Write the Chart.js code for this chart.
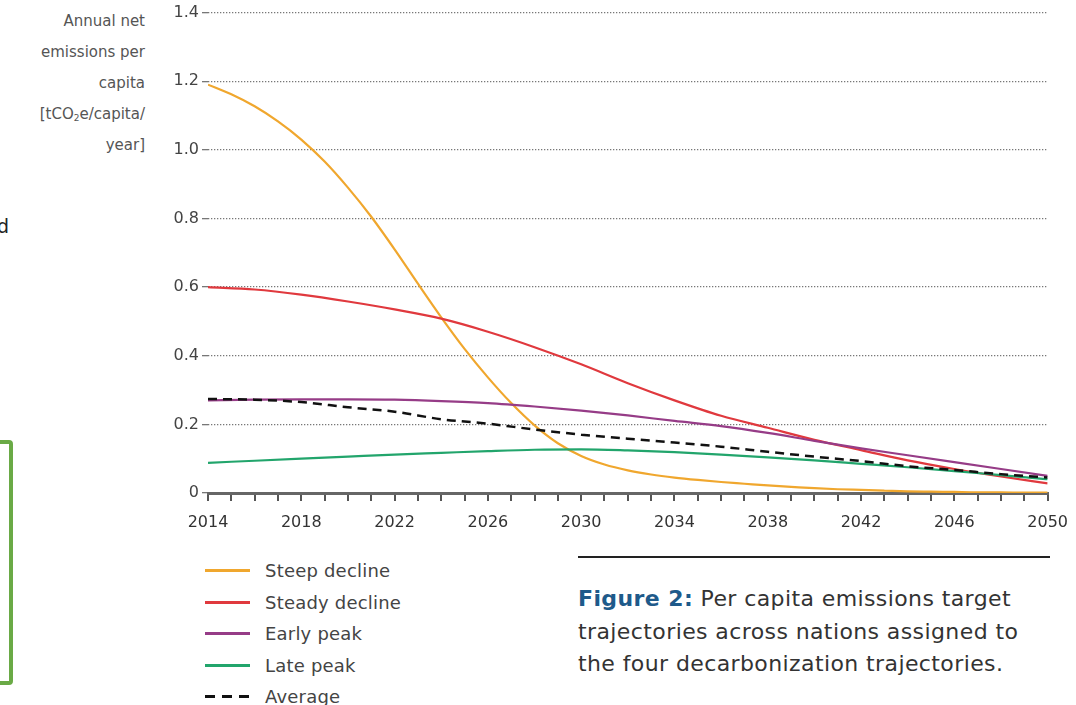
<!DOCTYPE html>
<html>
<head>
<meta charset="utf-8">
<script src="https://cdn.jsdelivr.net/npm/chart.js@4.4.1/dist/chart.umd.min.js"></script>
<style>
  body { margin: 0; background: #fff; font-family: "DejaVu Sans", sans-serif; width: 1076px; height: 705px; overflow: hidden; position: relative; }
  #wrap { position: absolute; left: 150px; top: 0; width: 930px; height: 538px; }
  #ytitle { position: absolute; right: 931px; top: 6px; text-align: right; font-size: 15px; line-height: 31px; color: #555; white-space: nowrap; }
  #ytitle sub { font-size: 9px; vertical-align: -2px; line-height: 0; }
  #legend { position: absolute; left: 205px; top: 555px; }
  .item { height: 31.5px; display: flex; align-items: center; font-size: 18px; letter-spacing: 0.2px; color: #444; }
  .swatch { width: 45px; height: 3px; margin-right: 15px; }
  #rule { position: absolute; left: 578px; top: 556px; width: 472px; height: 2px; background: #222; }
  #caption { position: absolute; left: 578px; top: 583px; font-size: 22px; letter-spacing: 0.4px; line-height: 32.5px; color: #333; white-space: nowrap; }
  #caption b { color: #1e5a8a; }
  #frag { position: absolute; left: -3px; top: 215px; font-size: 19px; color: #222; }
  #box { position: absolute; left: -10px; top: 440px; width: 15px; height: 237px; border: 4px solid #6aaa46; border-radius: 4px; }
</style>
</head>
<body>
<div id="frag">d</div>
<div id="box"></div>
<div id="ytitle">Annual net<br>emissions per<br>capita<br>[tCO<sub>2</sub>e/capita/<br>year]</div>
<div id="wrap"><canvas id="chart"></canvas></div>
<div id="legend"></div>
<div id="rule"></div>
<div id="caption"><b>Figure 2:</b> Per capita emissions target<br>trajectories across nations assigned to<br>the four decarbonization trajectories.</div>
<script>
// Años
const yearsSteep = [2014, 2015, 2016, 2017, 2018, 2019, 2020, 2021, 2022, 2023, 2024, 2025, 2026, 2027, 2028, 2029, 2030, 2031, 2032, 2033, 2034, 2035, 2036, 2037, 2038, 2039, 2040, 2041, 2042, 2043, 2044, 2045, 2046, 2047, 2048, 2049, 2050];
const years = [2014, 2016, 2018, 2020, 2022, 2024, 2026, 2028, 2030, 2032, 2034, 2036, 2038, 2040, 2042, 2044, 2046, 2048, 2050];

// Valores por serie (tCO2e/capita/año)
const steepDecline = [1.19, 1.162, 1.127, 1.083, 1.03, 0.966, 0.89, 0.805, 0.71, 0.61, 0.512, 0.42, 0.337, 0.262, 0.197, 0.145, 0.108, 0.083, 0.066, 0.054, 0.045, 0.038, 0.032, 0.027, 0.022, 0.018, 0.014, 0.011, 0.009, 0.007, 0.005, 0.004, 0.003, 0.002, 0.002, 0.001, 0.001];
const steadyDecline = [0.60, 0.593, 0.578, 0.558, 0.535, 0.508, 0.47, 0.425, 0.375, 0.32, 0.27, 0.225, 0.19, 0.155, 0.125, 0.095, 0.07, 0.048, 0.028];
const earlyPeak = [0.27, 0.272, 0.273, 0.273, 0.272, 0.268, 0.262, 0.252, 0.24, 0.226, 0.21, 0.195, 0.175, 0.152, 0.13, 0.11, 0.09, 0.07, 0.05];
const latePeak = [0.088, 0.094, 0.10, 0.106, 0.112, 0.117, 0.122, 0.126, 0.127, 0.124, 0.119, 0.112, 0.104, 0.095, 0.085, 0.075, 0.064, 0.052, 0.04];
const average = [0.274, 0.272, 0.265, 0.25, 0.237, 0.215, 0.202, 0.185, 0.17, 0.158, 0.147, 0.135, 0.12, 0.106, 0.093, 0.078, 0.067, 0.055, 0.045];

const seriesNames = ['Steep decline', 'Steady decline', 'Early peak', 'Late peak', 'Average'];
const seriesColors = ['#f0a72e', '#e0393e', '#963c87', '#22a56c', '#111111'];
const yTicks = [0, 0.2, 0.4, 0.6, 0.8, 1.0, 1.2, 1.4];

function toPoints(xs, ys) {
  return xs.map((x, i) => ({ x: x, y: ys[i] }));
}

const datasets = [
  { data: toPoints(yearsSteep, steepDecline) },
  { data: toPoints(years, steadyDecline) },
  { data: toPoints(years, earlyPeak) },
  { data: toPoints(years, latePeak) },
  { data: toPoints(years, average), borderDash: [9, 6] }
].map((d, i) => Object.assign({
  label: seriesNames[i],
  borderColor: seriesColors[i],
  borderWidth: i === 4 ? 2.5 : 2.2,
  pointRadius: 0,
  fill: false,
  cubicInterpolationMode: 'monotone'
}, d));

// Dibujar en orden: la media encima
datasets.forEach((d, i) => { d.order = 4 - i; });

const myChart = new Chart(document.getElementById('chart'), {
  type: 'line',
  data: { datasets: datasets },
  options: {
    responsive: true,
    maintainAspectRatio: false,
    animation: false,
    layout: { padding: { top: 12, right: 0, left: 0, bottom: 0 } },
    plugins: { legend: { display: false }, tooltip: { enabled: false } },
    scales: {
      x: {
        type: 'linear',
        min: 2014,
        max: 2050,
        afterFit: scale => { scale.height = 45; },
        afterBuildTicks: scale => { scale.ticks = yearsSteep.map(v => ({ value: v })); },
        ticks: {
          autoSkip: false,
          maxRotation: 0,
          padding: 12,
          color: '#333',
          font: { family: 'DejaVu Sans', size: 16 },
          callback: v => ((v - 2014) % 4 === 0 ? String(v) : '')
        },
        grid: { drawOnChartArea: false, tickLength: 8, color: '#555', lineWidth: 2 },
        border: { display: true, color: '#666', width: 3 }
      },
      y: {
        min: 0,
        max: 1.4,
        afterFit: scale => { scale.width = 58; },
        afterBuildTicks: scale => { scale.ticks = yTicks.map(v => ({ value: v })); },
        ticks: {
          padding: 3,
          color: '#444',
          font: { family: 'DejaVu Sans', size: 16 },
          callback: v => (v === 0 ? '0' : v.toFixed(1))
        },
        grid: { color: '#777', lineWidth: 1.3, tickLength: 6, tickColor: '#777', tickBorderDash: [] },
        border: { display: false, dash: [1.3, 1.7] }
      }
    }
  }
});

// Leyenda vertical en HTML a partir de los datasets
const legend = document.getElementById('legend');
myChart.data.datasets.forEach(function(ds, i) {
  const row = document.createElement('div');
  row.className = 'item';
  const sw = document.createElement('span');
  sw.className = 'swatch';
  if (ds.borderDash) {
    sw.style.background = 'repeating-linear-gradient(90deg, ' + ds.borderColor + ' 0 10px, transparent 10px 17px)';
  } else {
    sw.style.background = ds.borderColor;
  }
  row.appendChild(sw);
  row.appendChild(document.createTextNode(ds.label));
  legend.appendChild(row);
});
</script>
</body>
</html>
